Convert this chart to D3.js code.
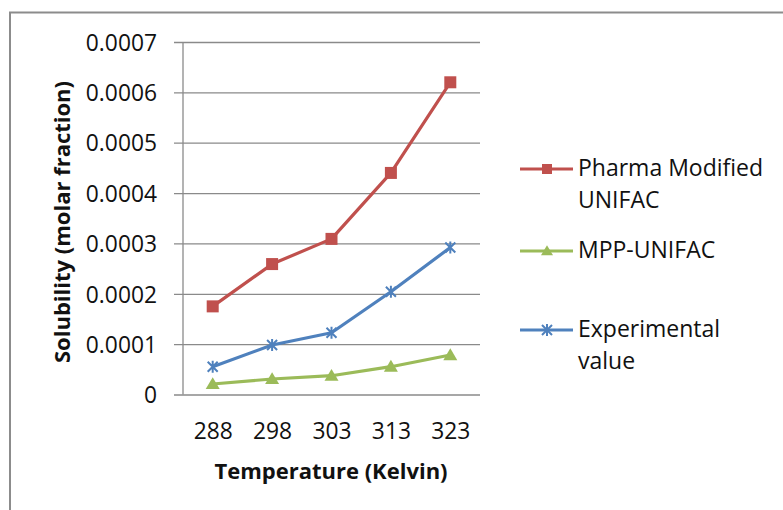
<!DOCTYPE html>
<html>
<head>
<meta charset="utf-8">
<script src="https://cdn.jsdelivr.net/npm/d3@7"></script>
<style>
  body { margin: 0; background: #fff; }
  svg text { font-family: "Open Sans", sans-serif; fill: #111; }
  .tick-label { font-size: 22.8px; }
  .axis-title { font-size: 22px; font-weight: bold; }
  .legend-label { font-size: 23px; }
</style>
</head>
<body>
<svg id="chart" width="783" height="510"></svg>
<script>
// data
var temps = ['288', '298', '303', '313', '323'];
var pharma = [0.000175, 0.000259, 0.000309, 0.000440, 0.000620];
var mpp = [0.0000209, 0.0000308, 0.0000373, 0.0000552, 0.0000784];
var experimental = [0.0000552, 0.0000983, 0.0001227, 0.000204, 0.000292];
var yTicks = [0, 0.0001, 0.0002, 0.0003, 0.0004, 0.0005, 0.0006, 0.0007];

var series = [
  {name: ['Pharma Modified', 'UNIFAC'], values: pharma, color: '#C0504D', marker: 'square'},
  {name: ['MPP-UNIFAC'], values: mpp, color: '#9BBB59', marker: 'triangle'},
  {name: ['Experimental', 'value'], values: experimental, color: '#4F81BD', marker: 'star'}
];

var svg = d3.select('#chart');

// outer chart border (only top and left show in the crop)
svg.append('path')
   .attr('d', 'M10,510 L10,12.5 L783,12.5')
   .attr('fill', 'none')
   .attr('stroke', '#8c8c8c')
   .attr('stroke-width', 2);

var plot = {left: 183, right: 480, top: 42, bottom: 394.5};

var x = d3.scalePoint()
          .domain(temps)
          .range([plot.left, plot.right])
          .padding(0.5);
var y = d3.scaleLinear()
          .domain([0, 0.0007])
          .range([plot.bottom, plot.top]);

// gridlines + ticks
var yAxis = d3.axisLeft(y)
              .tickValues(yTicks)
              .tickSize(-(plot.right - plot.left) - 9)
              .tickFormat(function(d){ return d === 0 ? '0' : d3.format('.4f')(d); });

var gy = svg.append('g')
            .attr('transform', 'translate(' + (plot.left - 9) + ',0)')
            .call(yAxis);
gy.select('.domain').remove();
gy.selectAll('.tick line').attr('stroke', '#8a8a8a').attr('stroke-width', 1.3);
gy.selectAll('.tick text')
  .attr('class', 'tick-label')
  .attr('x', -17)
  .attr('dy', '0.36em');

// y axis line
svg.append('line')
   .attr('x1', plot.left).attr('x2', plot.left)
   .attr('y1', plot.top).attr('y2', plot.bottom)
   .attr('stroke', '#8a8a8a').attr('stroke-width', 1.3);

// x axis labels
var xAxis = d3.axisBottom(x).tickSize(0).tickPadding(0);
var gx = svg.append('g')
            .attr('transform', 'translate(0,' + plot.bottom + ')')
            .call(xAxis);
gx.select('.domain').remove();
gx.selectAll('.tick text')
  .attr('class', 'tick-label')
  .attr('y', 44)
  .attr('dy', 0);

// axis titles
svg.append('text')
   .attr('class', 'axis-title')
   .attr('text-anchor', 'middle')
   .attr('x', 331)
   .attr('y', 479)
   .text('Temperature (Kelvin)');

svg.append('text')
   .attr('class', 'axis-title')
   .attr('text-anchor', 'middle')
   .attr('transform', 'translate(70,222) rotate(-90)')
   .text('Solubility (molar fraction)');

// markers
function drawMarker(g, type, color, cx, cy, s) {
  if (type === 'square') {
    g.append('rect')
     .attr('x', cx - s / 2).attr('y', cy - s / 2)
     .attr('width', s).attr('height', s)
     .attr('fill', color);
  } else if (type === 'triangle') {
    var h = s * 0.95;
    g.append('path')
     .attr('d', 'M' + cx + ',' + (cy - h * 0.6) + ' L' + (cx + s / 2 + 1) + ',' + (cy + h * 0.45) + ' L' + (cx - s / 2 - 1) + ',' + (cy + h * 0.45) + 'Z')
     .attr('fill', color);
  } else {
    var r = s / 2;
    g.append('path')
     .attr('d', 'M' + (cx - r) + ',' + (cy - r) + 'L' + (cx + r) + ',' + (cy + r) +
                'M' + (cx - r) + ',' + (cy + r) + 'L' + (cx + r) + ',' + (cy - r) +
                'M' + cx + ',' + (cy - r - 1) + 'L' + cx + ',' + (cy + r + 1))
     .attr('stroke', color)
     .attr('stroke-width', 2)
     .attr('fill', 'none');
  }
}

var line = d3.line()
             .x(function(d, i){ return x(temps[i]); })
             .y(function(d){ return y(d); });

series.forEach(function(s) {
  var g = svg.append('g');
  g.append('path')
   .attr('d', line(s.values))
   .attr('fill', 'none')
   .attr('stroke', s.color)
   .attr('stroke-width', 3.2)
   .attr('stroke-linejoin', 'round');
  s.values.forEach(function(v, i) {
    drawMarker(g, s.marker, s.color, x(temps[i]), y(v), s.marker === 'star' ? 10 : 12);
  });
});

// legend
var legendY = [169, 251, 330];
series.forEach(function(s, k) {
  var g = svg.append('g');
  var ly = legendY[k];
  g.append('line')
   .attr('x1', 520).attr('x2', 573)
   .attr('y1', ly).attr('y2', ly)
   .attr('stroke', s.color).attr('stroke-width', 3.2);
  drawMarker(g, s.marker, s.color, 547, ly, 10);
  s.name.forEach(function(t, j) {
    g.append('text')
     .attr('class', 'legend-label')
     .attr('x', 578)
     .attr('y', ly + 6.5 + j * 32.5)
     .text(t);
  });
});
</script>
</body>
</html>
